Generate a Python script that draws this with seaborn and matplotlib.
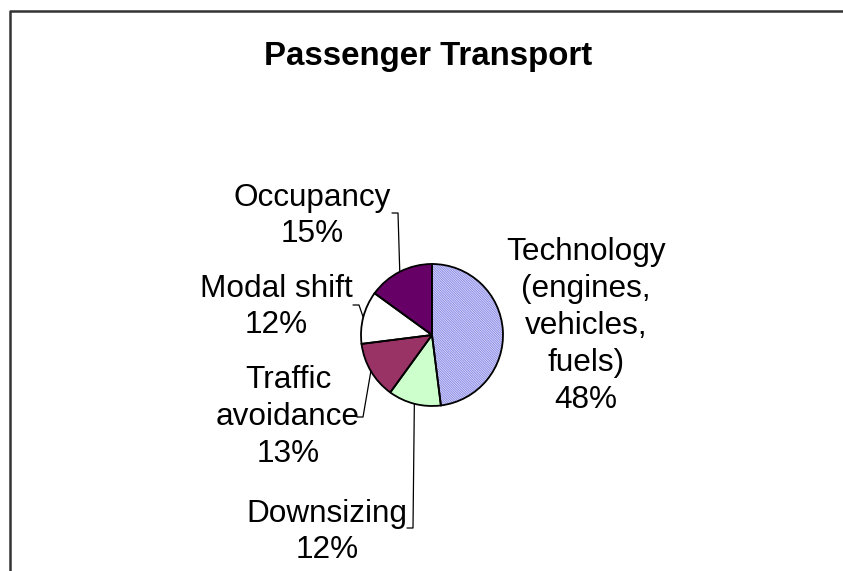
import numpy as np
import matplotlib.pyplot as plt
import seaborn as sns

# Passenger transport shares, clockwise from 12 o'clock
labels = [
    "Technology\n(engines,\nvehicles,\nfuels)",
    "Downsizing",
    "Traffic\navoidance",
    "Modal shift",
    "Occupancy",
]
shares = [48, 12, 13, 12, 15]
colors = ["#e2e2fb", "#ccffcc", "#993366", "#ffffff", "#660066"]

sns.set_style("white")
plt.rcParams["font.family"] = ["Liberation Sans", "DejaVu Sans"]
plt.rcParams["text.color"] = "black"
plt.rcParams["hatch.linewidth"] = 0.7

W, H = 843, 571
fig = plt.figure(figsize=(W / 100, H / 100), dpi=100)
ax = fig.add_axes([0, 0, 1, 1])

center = (432, 335)
radius = 71

# fills (y axis is flipped below, so start at -90 and go counterclock)
wedges, _ = ax.pie(shares, colors=colors, startangle=-90, counterclock=True,
                   center=center, radius=radius,
                   wedgeprops=dict(linewidth=0))
wedges[0].set_hatch("\\" * 14)
wedges[0].set_edgecolor("#8c8ce8")

# outlines
ax.pie(shares, colors=["none"] * len(shares), startangle=-90, counterclock=True,
       center=center, radius=radius,
       wedgeprops=dict(linewidth=1.3, edgecolor="black", fill=False))

ax.set_xlim(0, W)
ax.set_ylim(H, 0)
ax.set_aspect("equal")
ax.axis("off")

# outer frame (right and bottom edges are cut off in the source)
ax.plot([9.5, 9.5, W + 5], [H + 5, 10.5, 10.5], color="#333333", lw=1.8,
        clip_on=False)

ax.text(428, 57, "Passenger Transport", ha="center", va="center",
        fontsize=23.8, fontweight="bold", color="black")

fs = 22.7
label_pos = [(586, 326), (327, 532), (288, 417), (276, 307), (312, 216)]
leader_start = [None, (407, 528), (357, 417), (353, 305), (392, 213)]

for i, (lab, val) in enumerate(zip(labels, shares)):
    x, y = label_pos[i]
    ax.text(x, y, f"{lab}\n{val}%", ha="center", va="center",
            multialignment="center", fontsize=fs, linespacing=1.3,
            color="black")
    if leader_start[i] is None:
        continue
    w = wedges[i]
    mid = np.deg2rad((w.theta1 + w.theta2) / 2)
    ex = center[0] + radius * np.cos(mid)
    ey = center[1] + radius * np.sin(mid)
    sx, sy = leader_start[i]
    ax.plot([sx, sx + 6, ex], [sy, sy, ey], color="black", lw=0.9)

plt.savefig("out.png", dpi=100)
